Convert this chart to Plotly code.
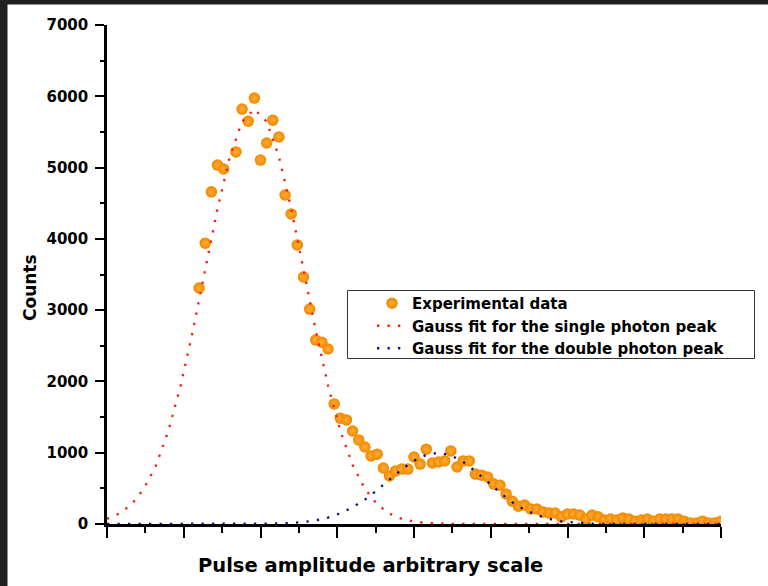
import plotly.graph_objects as go

# Experimental data (channel, counts)
channels = [15, 16, 17, 18, 19, 21, 22, 23, 24, 25, 26, 27, 28, 29, 30, 31, 32, 33, 34, 35,
            36, 37, 38, 39, 40, 41, 42, 43, 44, 45, 46, 47, 48, 49, 50, 51, 52, 53, 54, 55,
            56, 57, 58, 59, 60, 61, 62, 63, 64, 65, 66, 67, 68, 69, 70, 71, 72, 73, 74, 75,
            76, 77, 78, 79, 80, 81, 82, 83, 84, 85, 86, 87, 88, 89, 90, 91, 92, 93, 94, 95,
            96, 97, 98, 99, 100]
counts = [3310, 3940, 4660, 5035, 4980, 5220, 5820, 5650, 5975, 5105, 5345, 5665, 5430, 4615, 4350,
          3915, 3465, 3015, 2580, 2550, 2455, 1685, 1485, 1460, 1305, 1180, 1080, 955, 980, 785,
          675, 745, 770, 770, 940, 840, 1050, 855, 870, 885, 1025, 800, 885, 885, 700,
          685, 660, 560, 545, 420, 320, 250, 265, 210, 210, 170, 155, 155, 100, 140,
          140, 125, 70, 125, 100, 55, 70, 55, 85, 70, 40, 55, 70, 40, 70,
          70, 70, 70, 40, 15, 15, 40, 15, 15, 40]

fit_x = [0, 2, 4, 6, 8, 10, 12, 14, 16, 18, 20, 22, 24, 26, 28, 30, 32, 34, 36, 38,
         40, 42, 44, 46, 48, 50, 52, 54, 56, 58, 60, 62, 64, 66, 68, 70, 72, 74, 76, 78,
         80, 82, 84, 86, 88, 90, 92, 94, 96, 98, 100]
single_fit = [72, 146, 276, 493, 827, 1307, 1942, 2716, 3573, 4424, 5152, 5645, 5820, 5645, 5152,
              4424, 3573, 2716, 1942, 1307, 827, 493, 276, 146, 72, 34, 15, 6, 2, 0,
              0, 0, 0, 0, 0, 0, 0, 0, 0, 0, 0, 0, 0, 0, 0, 0, 0, 0, 0, 0, 0]
double_fit = [0, 0, 0, 0, 0, 0, 0, 0, 0, 0, 0, 0, 1, 3, 7, 14, 27, 51, 90, 149,
              233, 343, 475, 621, 765, 888, 971, 1000, 965, 870, 740, 590, 440, 305, 200,
              125, 72, 38, 18, 8, 3, 1, 0, 0, 0, 0, 0, 0, 0, 0, 0]

y_ticks = [0, 1000, 2000, 3000, 4000, 5000, 6000, 7000]
y_labels = ["0", "1000", "2000", "3000", "4000", "5000", "6000", "7000"]

FONT = "DejaVu Sans"

fig = go.Figure()
fig.add_trace(go.Scatter(
    x=channels, y=counts, mode="markers", name="Experimental data",
    marker=dict(size=11.5, color="#f08800",
                gradient=dict(type="radial", color="#ffae35"),
                line=dict(width=0)),
))
fig.add_trace(go.Scatter(
    x=fit_x, y=single_fit, mode="lines", name="Gauss fit for the single photon peak",
    line=dict(color="#ff1a00", width=2.3, dash="2.3px,8.2px"), cliponaxis=False,
))
fig.add_trace(go.Scatter(
    x=fit_x, y=double_fit, mode="lines", name="Gauss fit for the double photon peak",
    line=dict(color="#101080", width=2.3, dash="2.3px,8.2px"), cliponaxis=False,
))

L, T, W, H = 107, 25, 614, 499
def px(x):
    return (x - L) / W
def py(y):
    return (T + H - y) / H

fig.update_layout(
    width=768, height=586,
    margin=dict(l=L, r=768 - L - W, t=T, b=586 - T - H, pad=0),
    paper_bgcolor="white", plot_bgcolor="white",
    font=dict(family=FONT, color="black", weight="bold"),
    showlegend=True,
    legend=dict(x=px(372), y=py(287), xanchor="left", yanchor="top",
                bgcolor="rgba(0,0,0,0)", borderwidth=0,
                font=dict(family=FONT, size=15, color="black", weight="bold")),
    xaxis=dict(range=[0, 100], showgrid=False, zeroline=False,
               showline=True, linecolor="black", linewidth=2.5,
               ticks="outside", tickmode="linear", tick0=0, dtick=12.5,
               ticklen=11, tickwidth=2, tickcolor="black", showticklabels=False,
               minor=dict(dtick=6.25, tick0=0, ticks="outside", ticklen=6,
                          tickwidth=2, tickcolor="black")),
    yaxis=dict(range=[0, 7000], showgrid=False, zeroline=False,
               showline=True, linecolor="black", linewidth=2.5,
               ticks="outside", tickvals=y_ticks, ticktext=y_labels,
               ticklen=9, tickwidth=2, tickcolor="black", ticklabelstandoff=4,
               tickfont=dict(family=FONT, size=15, color="black", weight="bold"),
               minor=dict(dtick=500, tick0=0, ticks="outside", ticklen=4,
                          tickwidth=2, tickcolor="black")),
    annotations=[
        dict(text="Counts", xref="paper", yref="paper", x=px(30), y=py(288),
             textangle=-90, showarrow=False, xanchor="center", yanchor="middle",
             font=dict(family=FONT, size=17, color="black", weight="bold")),
        dict(text="Pulse amplitude arbitrary scale", xref="paper", yref="paper",
             x=px(370), y=py(565), showarrow=False, xanchor="center", yanchor="middle",
             font=dict(family=FONT, size=19.5, color="black", weight="bold")),
    ],
    shapes=[
        dict(type="rect", xref="paper", yref="paper", x0=px(0), x1=px(7.5),
             y0=py(586), y1=py(0), fillcolor="#202020", line=dict(width=0), layer="below"),
        dict(type="rect", xref="paper", yref="paper", x0=px(0), x1=px(768),
             y0=py(4.5), y1=py(0), fillcolor="#202020", line=dict(width=0), layer="below"),
        # legend frame
        dict(type="rect", xref="paper", yref="paper", x0=px(347.5), x1=px(754.5),
             y0=py(358.5), y1=py(290.5), fillcolor="white",
             line=dict(color="#333333", width=1), layer="above"),
    ],
)

fig.write_html("out.html")
